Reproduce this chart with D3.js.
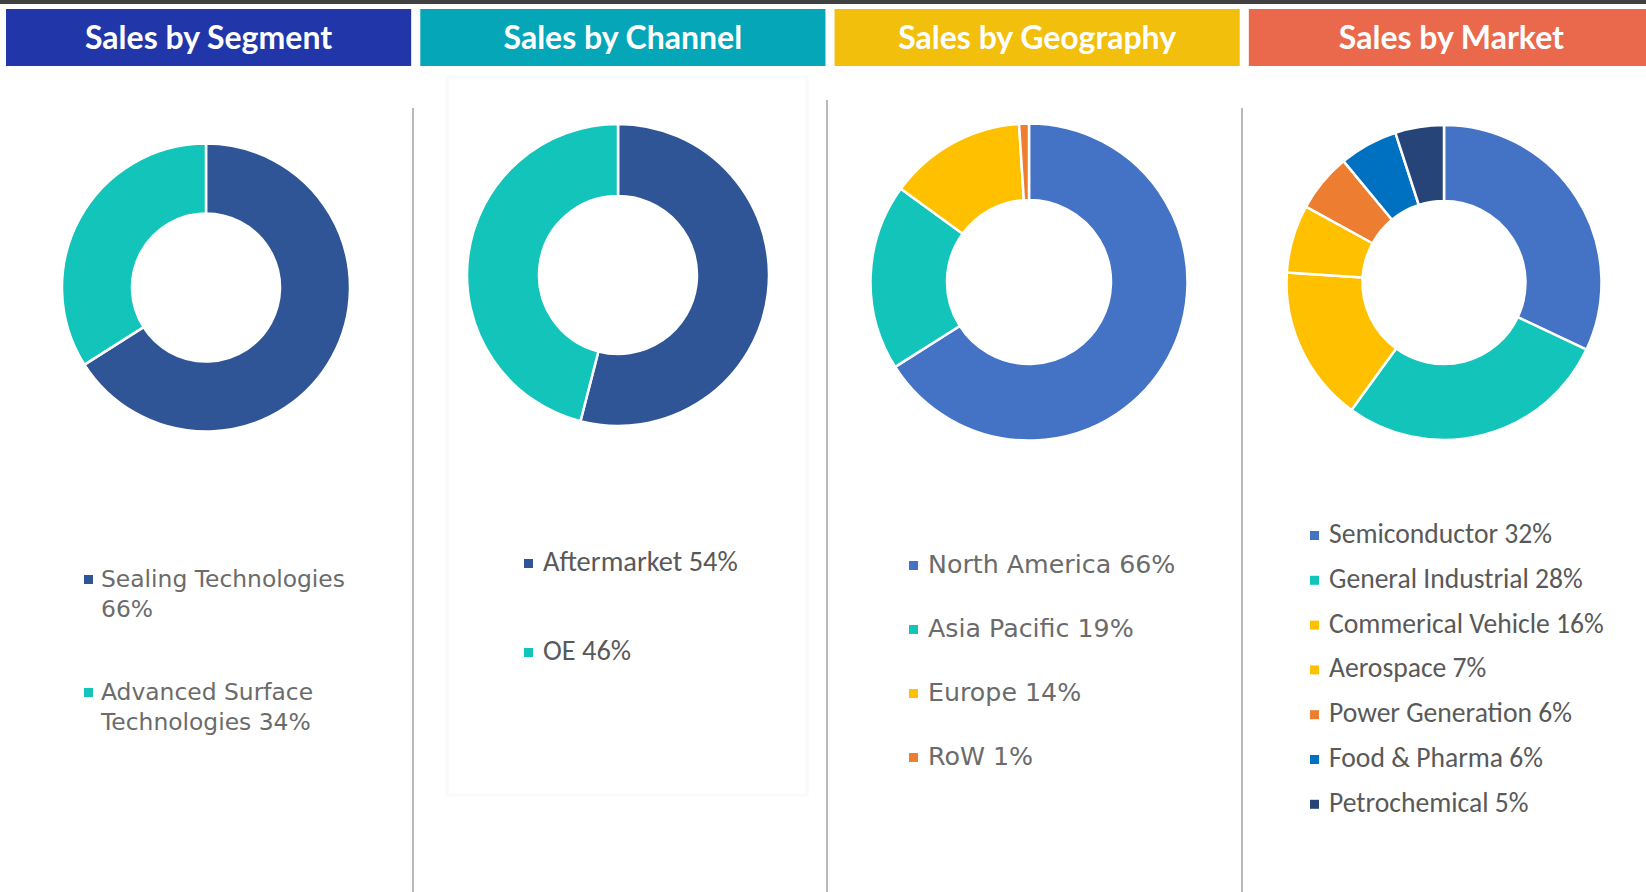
<!DOCTYPE html>
<html>
<head>
<meta charset="utf-8">
<script src="https://cdn.jsdelivr.net/npm/d3@7"></script>
<style>
    html, body { margin: 0; padding: 0; background: #fff; }
    svg { display: block; }
</style>
</head>
<body>
<svg id="chart"></svg>
<script>
// chart data
const panelTitles = ["Sales by Segment", "Sales by Channel", "Sales by Geography", "Sales by Market"];

const segmentLabels = ["Sealing Technologies", "Advanced Surface Technologies"];
const segmentValues = [66, 34];

const channelLabels = ["Aftermarket", "OE"];
const channelValues = [54, 46];

const geoLabels = ["North America", "Asia Pacific", "Europe", "RoW"];
const geoValues = [66, 19, 14, 1];

const marketLabels = ["Semiconductor", "General Industrial", "Commerical Vehicle", "Aerospace",
    "Power Generation", "Food & Pharma", "Petrochemical"];
const marketValues = [32, 28, 16, 7, 6, 6, 5];

// colours
const headerColors = ["#2137A9", "#06A6B9", "#F2BF0C", "#EA684B"];
const segmentColors = ["#2F5597", "#13C4BA"];
const channelColors = ["#2F5597", "#13C4BA"];
const geoColors = ["#4472C4", "#13C4BA", "#FFC000", "#ED7D31"];
const marketColors = ["#4472C4", "#13C4BA", "#FFC000", "#FFC000", "#ED7D31", "#0070C0", "#264478"];

const width = 1646;
const height = 892;

const gothic = "'Century Gothic', 'DejaVu Sans', sans-serif";
const calibri = "Calibri, Carlito, Lato, sans-serif";

let svg = d3.select("#chart")
    .attr("width", width)
    .attr("height", height);

// dark strip along the top
svg.append("rect")
    .attr("x", 0).attr("y", 0)
    .attr("width", width).attr("height", 4)
    .attr("fill", "#404040");

// header boxes, one per panel
let headerX = d3.scaleBand()
    .domain(panelTitles)
    .range([6, 1654])
    .paddingInner(0.022);

let headers = svg.selectAll(".header")
    .data(panelTitles)
    .enter()
    .append("g")
    .attr("class", "header");

headers.append("rect")
    .attr("x", d => headerX(d))
    .attr("y", 9)
    .attr("width", headerX.bandwidth())
    .attr("height", 57)
    .attr("fill", (d, i) => headerColors[i]);

headers.append("text")
    .attr("x", d => headerX(d) + headerX.bandwidth() / 2)
    .attr("y", 49)
    .attr("text-anchor", "middle")
    .attr("fill", "#fff")
    .style("font-family", "'Century Gothic', Lato, sans-serif")
    .style("font-weight", "bold")
    .style("font-size", "32px")
    .text(d => d);

// grey divider lines between the panels
const dividers = [
    { x: 413, y: 108 },
    { x: 827, y: 100 },
    { x: 1242, y: 108 }
];
svg.selectAll(".divider")
    .data(dividers)
    .enter()
    .append("line")
    .attr("class", "divider")
    .attr("x1", d => d.x).attr("x2", d => d.x)
    .attr("y1", d => d.y).attr("y2", height)
    .attr("stroke", "#8a8a8a")
    .attr("stroke-width", 1.2);

// faint frame left over around the channel chart
svg.append("rect")
    .attr("x", 447).attr("y", 77)
    .attr("width", 360).attr("height", 718)
    .attr("fill", "none")
    .attr("stroke", "#fafafa")
    .attr("stroke-width", 3);

// one donut + legend for each panel
const panels = [
    {
        labels: segmentLabels, values: segmentValues, colors: segmentColors,
        cx: 206, cy: 287.5, outer: 144, inner: 74,
        legendX: 84, legendY: 587, step: 113, lineHeight: 30, wrap: 255,
        font: gothic, fontSize: 23.4, textColor: "#6b6b6b", textGap: 17
    },
    {
        labels: channelLabels, values: channelValues, colors: channelColors,
        cx: 618, cy: 275, outer: 151, inner: 79,
        legendX: 524, legendY: 571, step: 89, lineHeight: 30, wrap: 400,
        font: calibri, fontSize: 28.4, textColor: "#595959", textGap: 19
    },
    {
        labels: geoLabels, values: geoValues, colors: geoColors,
        cx: 1029, cy: 282, outer: 158.5, inner: 82,
        legendX: 909, legendY: 573, step: 64, lineHeight: 30, wrap: 400,
        font: gothic, fontSize: 25.3, textColor: "#6b6b6b", textGap: 19
    },
    {
        labels: marketLabels, values: marketValues, colors: marketColors,
        cx: 1444, cy: 282.5, outer: 157.5, inner: 81.5,
        legendX: 1310, legendY: 543, step: 44.8, lineHeight: 30, wrap: 400,
        font: calibri, fontSize: 27.6, textColor: "#595959", textGap: 19
    }
];

let pie = d3.pie()
    .sort(null)
    .value(d => d);

panels.forEach(p => {
    let arc = d3.arc()
        .innerRadius(p.inner)
        .outerRadius(p.outer);

    let group = svg.append("g")
        .attr("class", "donut")
        .attr("transform", "translate(" + p.cx + "," + p.cy + ")");

    group.selectAll("path")
        .data(pie(p.values))
        .enter()
        .append("path")
        .attr("d", arc)
        .attr("fill", (d, i) => p.colors[i])
        .attr("stroke", "#fff")
        .attr("stroke-width", 2.5)
        .attr("stroke-linejoin", "round");

    let legend = svg.append("g").attr("class", "legend");

    let items = legend.selectAll(".item")
        .data(p.labels)
        .enter()
        .append("g")
        .attr("class", "item")
        .attr("transform", (d, i) => "translate(" + p.legendX + "," + (p.legendY + i * p.step) + ")");

    items.append("rect")
        .attr("x", 0)
        .attr("y", -12)
        .attr("width", 9)
        .attr("height", 9)
        .attr("fill", (d, i) => p.colors[i]);

    items.append("text")
        .attr("x", p.textGap)
        .attr("y", 0)
        .attr("fill", p.textColor)
        .style("font-family", p.font)
        .style("font-size", p.fontSize + "px")
        .each(function (d, i) {
            // word wrap the label the way the legend box does
            let text = d3.select(this);
            let words = (d + " " + p.values[i] + "%").split(" ");
            let line = [];
            let lineNo = 0;
            let tspan = text.append("tspan").attr("x", p.textGap).attr("y", 0);
            words.forEach(w => {
                line.push(w);
                tspan.text(line.join(" "));
                if (tspan.node().getComputedTextLength() > p.wrap && line.length > 1) {
                    line.pop();
                    tspan.text(line.join(" "));
                    line = [w];
                    lineNo++;
                    tspan = text.append("tspan")
                        .attr("x", p.textGap)
                        .attr("y", lineNo * p.lineHeight)
                        .text(w);
                }
            });
        });
});
</script>
</body>
</html>
